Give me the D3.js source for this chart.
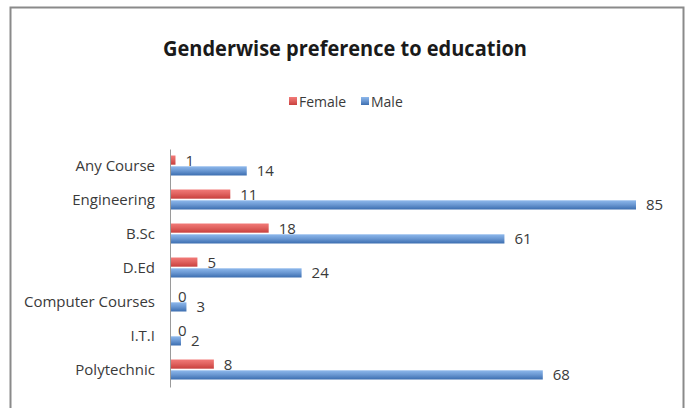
<!DOCTYPE html>
<html>
<head>
<meta charset="utf-8">
<script src="https://cdn.jsdelivr.net/npm/d3@7"></script>
<style>
  body { margin: 0; background: #fff; }
  text { font-family: "Open Sans", "Liberation Sans", sans-serif; }
</style>
</head>
<body>
<div id="chart"></div>
<script>
// categories top to bottom, as shown
var categories = ["Any Course", "Engineering", "B.Sc", "D.Ed", "Computer Courses", "I.T.I", "Polytechnic"];
var series = ["Female", "Male"];
var femaleValues = [1, 11, 18, 5, 0, 0, 8];
var maleValues = [14, 85, 61, 24, 3, 2, 68];
var seriesColors = {Female: ["#f27a78", "#c8403d"], Male: ["#8db8ec", "#3c6eb0"]};

var width = 687, height = 408;

var svg = d3.select("#chart").append("svg")
    .attr("width", width)
    .attr("height", height);

// gradients for the shaded excel-like bars
var defs = svg.append("defs");
series.forEach(function(s){
    var g = defs.append("linearGradient")
        .attr("id", "grad-" + s)
        .attr("x1", 0).attr("y1", 0).attr("x2", 0).attr("y2", 1);
    g.append("stop").attr("offset", "0%").attr("stop-color", seriesColors[s][0]);
    g.append("stop").attr("offset", "45%").attr("stop-color", d3.interpolateRgb(seriesColors[s][0], seriesColors[s][1])(0.4));
    g.append("stop").attr("offset", "100%").attr("stop-color", seriesColors[s][1]);
});

// chart frame
svg.append("rect")
    .attr("x", 10.5).attr("y", 7.5)
    .attr("width", 673).attr("height", 420)
    .attr("fill", "#fff")
    .attr("stroke", "#8a8a8a")
    .attr("stroke-width", 2);

// title
svg.append("text")
    .attr("x", 345).attr("y", 56)
    .attr("text-anchor", "middle")
    .attr("font-size", 21)
    .attr("font-weight", "bold")
    .attr("fill", "#1a1a1a")
    .attr("textLength", 364)
    .attr("lengthAdjust", "spacingAndGlyphs")
    .text("Genderwise preference to education");

// legend
var legend = svg.append("g").attr("transform", "translate(289,101)");
var legendX = [0, 72];
series.forEach(function(s, i){
    var item = legend.append("g").attr("transform", "translate(" + legendX[i] + ",0)");
    item.append("rect")
        .attr("x", 0).attr("y", -4)
        .attr("width", 8).attr("height", 8)
        .attr("fill", "url(#grad-" + s + ")");
    item.append("text")
        .attr("x", 10).attr("y", 5.5)
        .attr("font-size", 14)
        .attr("fill", "#3a3a3a")
        .text(s);
});

// scales
var x = d3.scaleLinear().domain([0, 85]).range([170, 636]);
var y0 = d3.scaleBand().domain(categories).range([149, 387]);
var y1 = d3.scaleBand().domain(series)
    .range([y0.bandwidth() / 2 - 10.5, y0.bandwidth() / 2 + 9.5])
    .paddingInner(0.15);

var rows = categories.map(function(c, i){
    return {category: c, values: [
        {key: "Female", value: femaleValues[i]},
        {key: "Male", value: maleValues[i]}
    ]};
});

var groups = svg.selectAll("g.row")
    .data(rows)
    .enter()
    .append("g")
    .attr("class", "row")
    .attr("transform", function(d){ return "translate(0," + y0(d.category) + ")"; });

groups.selectAll("rect")
    .data(function(d){ return d.values; })
    .enter()
    .append("rect")
    .attr("x", x(0))
    .attr("y", function(d){ return y1(d.key); })
    .attr("width", function(d){ return x(d.value) - x(0); })
    .attr("height", y1.bandwidth())
    .attr("fill", function(d){ return "url(#grad-" + d.key + ")"; });

groups.selectAll("text.value")
    .data(function(d){ return d.values; })
    .enter()
    .append("text")
    .attr("class", "value")
    .attr("x", function(d){ return x(d.value) + (d.value == 0 ? 8 : 10); })
    .attr("y", function(d){ return y1(d.key) + y1.bandwidth() / 2 + 5.5; })
    .attr("font-size", 15)
    .attr("fill", "#3a3a3a")
    .text(function(d){ return d.value; });

// category axis
var yAxis = svg.append("g")
    .attr("transform", "translate(" + x(0) + ",0)")
    .call(d3.axisLeft(y0).tickSize(0).tickPadding(15));
yAxis.select(".domain").attr("stroke", "#9a9a9a");
yAxis.selectAll("text")
    .attr("font-size", 15)
    .attr("fill", "#3a3a3a")
    .style("font-family", "'Open Sans', sans-serif");
</script>
</body>
</html>
